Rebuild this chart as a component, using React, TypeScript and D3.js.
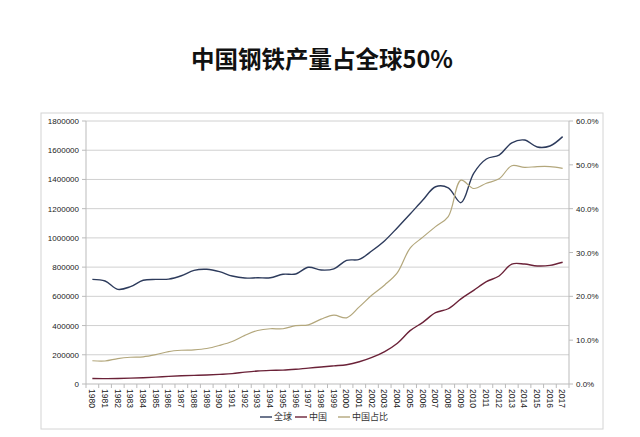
import React from "react";
import * as d3 from "d3";

const years = d3.range(1980, 2018).map(String);
const world = [716, 705, 648, 666, 710, 716, 718, 741, 778, 785, 769, 739, 725, 727, 727, 751, 753, 799, 780, 788, 846, 853, 912, 981, 1070, 1163, 1259, 1350, 1343, 1241, 1442, 1540, 1567, 1651, 1670, 1622, 1629, 1693].map((v) => v * 1000);
const china = [38, 37, 38, 40, 43, 47, 52, 56, 59, 62, 66, 71, 81, 89, 93, 95, 101, 109, 116, 124, 132, 152, 182, 222, 279, 365, 422, 488, 515, 583, 641, 700, 739, 821, 821, 808, 812, 833].map((v) => v * 1000);
const share = [5.3, 5.25, 5.8, 6.1, 6.2, 6.7, 7.4, 7.7, 7.8, 8.1, 8.8, 9.7, 11.1, 12.2, 12.6, 12.6, 13.3, 13.5, 14.8, 15.7, 15.1, 17.6, 20.3, 22.6, 25.4, 31.0, 33.5, 35.9, 38.2, 46.5, 44.6, 45.8, 46.8, 49.8, 49.4, 49.6, 49.6, 49.2].map((v) => v / 100);
const leftTicks = d3.range(0, 1800001, 200000);
const rightTicks = d3.range(0, 0.61, 0.1);
const seriesNames = ["全球", "中国", "中国占比"];
const colors = ["#2d3b5c", "#6b2238", "#b3a77c"];
const title = "中国钢铁产量占全球50%";

export default function App() {
  const W = 640, H = 437;
  const m = { l: 86, r: 569, t: 121, b: 384 };
  const x = d3.scaleBand<string>().domain(years).range([m.l, m.r]);
  const yL = d3.scaleLinear().domain([0, 1800000]).range([m.b, m.t]);
  const yR = d3.scaleLinear().domain([0, 0.6]).range([m.b, m.t]);
  const cx = (d: string) => (x(d) as number) + x.bandwidth() / 2;
  const curve = d3.curveCatmullRom.alpha(0.5);
  const lineL = d3.line<number>().x((_, i) => cx(years[i])).y((d) => yL(d)).curve(curve);
  const lineR = d3.line<number>().x((_, i) => cx(years[i])).y((d) => yR(d)).curve(curve);
  const font = "'Liberation Sans', Arial, sans-serif";
  const cjk = "'Noto Sans CJK SC', sans-serif";
  const legendX = [260, 295, 338];
  return (
    <svg width={W} height={H} style={{ position: "absolute", left: 0, top: 0, background: "#fff" }}>
      <rect x={0} y={0} width={W} height={H} fill="#fff" />
      <text x={322} y={68} textAnchor="middle" fontFamily={cjk} fontWeight="bold" fontSize={23.5} fill="#111">{title}</text>
      <rect x={41} y={113} width={562} height={316} fill="#fff" stroke="#d4d4d4" strokeWidth={1} />
      {leftTicks.map((t) => (
        <g key={t}>
          {t > 0 && <line x1={m.l} x2={m.r} y1={yL(t)} y2={yL(t)} stroke="#d0d0d0" strokeWidth={1} />}
          <text x={79} y={yL(t) + 3} textAnchor="end" fontFamily={font} fontSize={8} fill="#222">{t}</text>
        </g>
      ))}
      {rightTicks.map((t) => (
        <g key={t}>
          <line x1={m.r} x2={m.r + 4} y1={yR(t)} y2={yR(t)} stroke="#bbb" />
          <text x={576} y={yR(t) + 3} textAnchor="start" fontFamily={font} fontSize={8} fill="#222">{(t * 100).toFixed(1) + "%"}</text>
        </g>
      ))}
      {leftTicks.map((t) => (
        <line key={"lt" + t} x1={m.l - 4} x2={m.l} y1={yL(t)} y2={yL(t)} stroke="#bbb" />
      ))}
      <line x1={m.l} x2={m.l} y1={m.t} y2={m.b} stroke="#bbb" />
      <line x1={m.r} x2={m.r} y1={m.t} y2={m.b} stroke="#bbb" />
      <line x1={m.l} x2={m.r} y1={m.b} y2={m.b} stroke="#bbb" />
      {years.map((yr) => (
        <g key={yr}>
          <line x1={x(yr) as number} x2={x(yr) as number} y1={m.b} y2={m.b + 4} stroke="#bbb" />
          <text transform={`translate(${cx(yr) - 3.2},${m.b + 5}) rotate(90)`} fontFamily={font} fontSize={8.5} fill="#222">{yr}</text>
        </g>
      ))}
      <line x1={m.r} x2={m.r} y1={m.b} y2={m.b + 4} stroke="#bbb" />
      <path d={lineL(world) as string} fill="none" stroke={colors[0]} strokeWidth={1.4} />
      <path d={lineL(china) as string} fill="none" stroke={colors[1]} strokeWidth={1.4} />
      <path d={lineR(share) as string} fill="none" stroke={colors[2]} strokeWidth={1.2} />
      {seriesNames.map((n, i) => (
        <g key={n}>
          <line x1={legendX[i]} x2={legendX[i] + 12} y1={417} y2={417} stroke={colors[i]} strokeWidth={1.4} />
          <text x={legendX[i] + 14} y={420} fontFamily={cjk} fontSize={9} fill="#333">{n}</text>
        </g>
      ))}
    </svg>
  );
}
